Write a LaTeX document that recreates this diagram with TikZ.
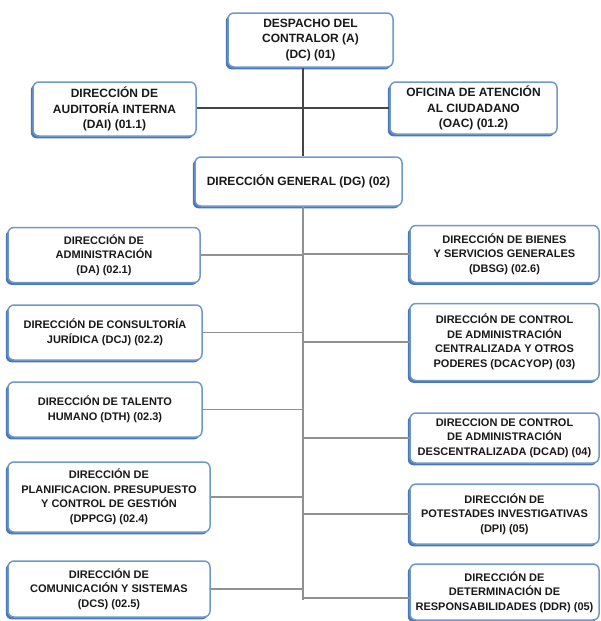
\documentclass[tikz,border=0pt]{standalone}
\usepackage{fontspec}
\setmainfont{Liberation Sans}
\usetikzlibrary{shadows}
\definecolor{boxblue}{RGB}{72,120,182}
\definecolor{boxedge}{RGB}{112,152,204}
\definecolor{txt}{RGB}{25,25,25}
\definecolor{topline}{RGB}{70,70,70}
\definecolor{lowline}{RGB}{145,145,145}
\tikzset{
  orgbox/.style={draw=boxedge, line width=1.5pt, rounded corners=6pt, fill=white,
    general shadow={fill=boxblue, shadow xshift=-2.2pt, shadow yshift=-2.4pt},
    align=center, inner sep=2pt, text=txt,
    font=\fontsize{11}{14.5}\selectfont\bfseries},
  bigtext/.style={font=\fontsize{12}{15.5}\selectfont\bfseries},
  topconn/.style={draw=topline, line width=1.5pt},
  lowconn/.style={draw=lowline, line width=1.2pt},
}
\begin{document}
\begin{tikzpicture}[x=1pt,y=-1pt]
\useasboundingbox (0,0) rectangle (601,621);
% top level
\node[orgbox, bigtext, minimum width=165pt, minimum height=54pt] (dc) at (310.5,40) {DESPACHO DEL\\CONTRALOR (A)\\(DC) (01)};
\node[orgbox, bigtext, minimum width=163pt, minimum height=54pt] (dai) at (114.5,109) {DIRECCIÓN DE\\AUDITORÍA INTERNA\\(DAI) (01.1)};
\node[orgbox, bigtext, minimum width=167pt, minimum height=52pt] (oac) at (473.5,108) {OFICINA DE ATENCIÓN\\AL CIUDADANO\\(OAC) (01.2)};
\node[orgbox, bigtext, minimum width=207pt, minimum height=49pt] (dg) at (298.5,181.5) {DIRECCIÓN GENERAL (DG) (02)};
% left column
\node[orgbox, minimum width=192pt, minimum height=55pt] (da) at (104,255) {DIRECCIÓN DE\\ADMINISTRACIÓN\\(DA) (02.1)};
\node[orgbox, minimum width=194pt, minimum height=55pt] (dcj) at (105,332.5) {DIRECCIÓN DE CONSULTORÍA\\JURÍDICA (DCJ) (02.2)};
\node[orgbox, minimum width=194pt, minimum height=55pt] (dth) at (105,409.5) {DIRECCIÓN DE TALENTO\\HUMANO (DTH) (02.3)};
\node[orgbox, minimum width=202pt, minimum height=70pt] (dppcg) at (109,497) {DIRECCIÓN DE\\PLANIFICACION. PRESUPUESTO\\Y CONTROL DE GESTIÓN\\(DPPCG) (02.4)};
\node[orgbox, minimum width=202pt, minimum height=56pt] (dcs) at (109,589) {DIRECCIÓN DE\\COMUNICACIÓN Y SISTEMAS\\(DCS) (02.5)};
% right column
\node[orgbox, minimum width=189pt, minimum height=57pt] (dbsg) at (504.5,254) {DIRECCIÓN DE BIENES\\Y SERVICIOS GENERALES\\(DBSG) (02.6)};
\node[orgbox, minimum width=189pt, minimum height=77pt] (dcacyop) at (504.5,342) {DIRECCIÓN DE CONTROL\\DE ADMINISTRACIÓN\\CENTRALIZADA Y OTROS\\PODERES (DCACYOP) (03)};
\node[orgbox, minimum width=189pt, minimum height=50pt] (dcad) at (504.5,438) {DIRECCION DE CONTROL\\DE ADMINISTRACIÓN\\DESCENTRALIZADA (DCAD) (04)};
\node[orgbox, minimum width=189pt, minimum height=60pt] (dpi) at (504.5,514) {DIRECCIÓN DE\\POTESTADES INVESTIGATIVAS\\(DPI) (05)};
\node[orgbox, minimum width=189pt, minimum height=56pt] (ddr) at (504.5,592) {DIRECCIÓN DE\\DETERMINACIÓN DE\\RESPONSABILIDADES (DDR) (05)};
% spine
\coordinate (sp) at (303,0);
\coordinate (spend) at (303,600);
\draw[topconn] (dc.south -| sp) -- (dg.north -| sp);
\draw[topconn] (dai.east |- oac.west) -- (oac.west);
\draw[lowconn] (dg.south -| sp) -- (spend);
\draw[lowconn] (da.east) -- (da.east -| sp);
\draw[lowconn] (dcj.east) -- (dcj.east -| sp);
\draw[lowconn] (dth.east) -- (dth.east -| sp);
\draw[lowconn] (dppcg.east) -- (dppcg.east -| sp);
\draw[lowconn] (dcs.east) -- (dcs.east -| sp);
\draw[lowconn] (dbsg.west -| sp) -- (dbsg.west);
\draw[lowconn] (dcacyop.west -| sp) -- (dcacyop.west);
\draw[lowconn] (dcad.west -| sp) -- (dcad.west);
\draw[lowconn] (dpi.west -| sp) -- (dpi.west);
\draw[lowconn] ([yshift=-6pt]ddr.west -| sp) -- ([yshift=-6pt]ddr.west);
\end{tikzpicture}
\end{document}
